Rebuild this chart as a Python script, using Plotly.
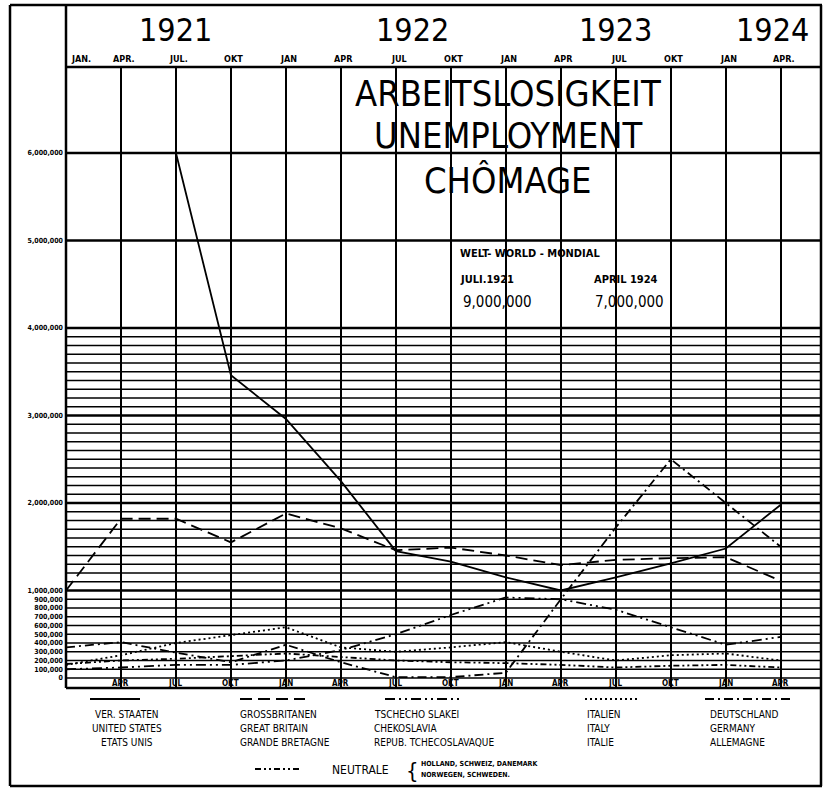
import plotly.graph_objects as go

# ---------------- data (millions of unemployed, quarterly Jan 1921 .. Apr 1924) ----------------
quarter_index = list(range(14))
top_month_labels = ["JAN.", "APR.", "JUL.", "OKT", "JAN", "APR", "JUL", "OKT",
                    "JAN", "APR", "JUL", "OKT", "JAN", "APR."]
bottom_month_labels = ["", "APR", "JUL", "OKT", "JAN", "APR", "JUL", "OKT",
                       "JAN", "APR", "JUL", "OKT", "JAN", "APR"]
year_labels = ["1921", "1922", "1923", "1924"]
year_pos = [2.0, 6.3, 10.0, 12.85]

united_states = [None, None, 6.0, 3.46, 2.96, 2.25, 1.45, 1.33, 1.15, 1.0, 1.15, 1.31, 1.48, 1.98]
great_britain = [1.0, 1.82, 1.82, 1.55, 1.88, 1.71, 1.46, 1.49, 1.40, 1.29, 1.35, 1.37, 1.38, 1.11]
czechoslovakia = [0.10, 0.12, 0.15, 0.15, 0.20, 0.32, 0.50, 0.72, 0.92, 0.90, 0.78, 0.58, 0.38, 0.47]
italy = [0.15, 0.26, 0.40, 0.49, 0.58, 0.35, 0.30, 0.35, 0.41, 0.30, 0.20, 0.26, 0.28, 0.20]
germany = [0.35, 0.41, 0.29, 0.18, 0.38, 0.18, 0.01, 0.01, 0.06, 0.90, 1.72, 2.50, 2.00, 1.50]
neutrals = [0.16, 0.20, 0.22, 0.25, 0.28, 0.24, 0.20, 0.18, 0.17, 0.15, 0.12, 0.14, 0.15, 0.12]

ytick_vals = [0, 0.1, 0.2, 0.3, 0.4, 0.5, 0.6, 0.7, 0.8, 0.9, 1, 2, 3, 4, 5, 6]
ytick_text = ["0", "100,000", "200,000", "300,000", "400,000", "500,000", "600,000",
              "700,000", "800,000", "900,000", "1,000,000", "2,000,000", "3,000,000",
              "4,000,000", "5,000,000", "6,000,000"]
major_lines = [1, 2, 3, 4, 5, 6]
fine_lines = [round(v * 0.1, 1) for v in range(0, 40) if v % 10 != 0]

series = [
    ("VER. STAATEN", united_states, "solid"),
    ("GROSSBRITANEN", great_britain, "12px,6px"),
    ("TSCHECHOSLAKEI", czechoslovakia, "10px,4px,2px,4px,2px,4px"),
    ("ITALIEN", italy, "2px,3px"),
    ("DEUTSCHLAND", germany, "9px,4px,2px,4px"),
    ("NEUTRALE", neutrals, "6px,3px,2px,3px,2px,3px"),
]

legend_blocks = [
    (90, 140, "solid", 127, "center", ["VER. STAATEN", "UNITED STATES", "ETATS UNIS"]),
    (240, 305, "12px,6px", 238, "left", ["GROSSBRITANEN", "GREAT BRITAIN", "GRANDE BRETAGNE"]),
    (385, 460, "10px,4px,2px,4px,2px,4px", 372, "left", ["TSCHECHO SLAKEI", "CHEKOSLAVIA", "REPUB. TCHECOSLAVAQUE"]),
    (585, 640, "2px,3px", 585, "left", ["ITALIEN", "ITALY", "ITALIE"]),
    (705, 790, "9px,4px,2px,4px", 708, "left", ["DEUTSCHLAND", "GERMANY", "ALLEMAGNE"]),
]

# ---------------- geometry ----------------
W, H = 830, 789
L, R, T, B = 66, 822, 67, 688
XMAX = 13.75
YMIN, YMAX = (678 - B) / 87.5, (678 - T) / 87.5


def xp(px):
    return (px - L) / (R - L)


def yp(py):
    return (B - py) / (B - T)


HAND = "Liberation Sans Narrow, DejaVu Sans Condensed, Liberation Sans, sans-serif"

fig = go.Figure()
for name, vals, dash in series:
    fig.add_trace(go.Scatter(x=quarter_index, y=vals, mode="lines", name=name,
                             line=dict(color="black", width=1.8, dash=dash),
                             connectgaps=False, hoverinfo="skip"))

shapes = []
for v in fine_lines:
    shapes.append(dict(type="line", xref="paper", yref="y", x0=0, x1=1, y0=v, y1=v,
                       line=dict(color="black", width=1.3), layer="below"))
for v in major_lines:
    shapes.append(dict(type="line", xref="paper", yref="y", x0=0, x1=1, y0=v, y1=v,
                       line=dict(color="black", width=2.6), layer="below"))
shapes.append(dict(type="line", xref="paper", yref="y", x0=0, x1=1, y0=0, y1=0,
                   line=dict(color="black", width=1.6), layer="below"))

# frame and header box
frame = dict(color="black", width=2.5)
shapes += [
    dict(type="line", xref="paper", yref="paper", x0=xp(10), x1=xp(822), y0=yp(5), y1=yp(5), line=frame),
    dict(type="line", xref="paper", yref="paper", x0=xp(10), x1=xp(10), y0=yp(5), y1=yp(786), line=frame),
    dict(type="line", xref="paper", yref="paper", x0=xp(10), x1=xp(822), y0=yp(786), y1=yp(786), line=frame),
    dict(type="line", xref="paper", yref="paper", x0=xp(821), x1=xp(821), y0=yp(5), y1=yp(786), line=frame),
    dict(type="line", xref="paper", yref="paper", x0=0, x1=0, y0=yp(5), y1=0, line=frame),
    dict(type="line", xref="paper", yref="paper", x0=0, x1=1, y0=1, y1=1, line=frame),
    dict(type="line", xref="paper", yref="paper", x0=0, x1=1, y0=0, y1=0, line=frame),
]

annotations = []
# years
for lab, pos in zip(year_labels, year_pos):
    annotations.append(dict(x=pos, y=yp(30), xref="x", yref="paper", text=lab, showarrow=False,
                            font=dict(size=32, family=HAND, color="black"), xanchor="center", yanchor="middle"))
# top month labels
for i, lab in enumerate(top_month_labels):
    annotations.append(dict(x=i, y=yp(59), xref="x", yref="paper", text="<b>" + lab + "</b>", showarrow=False,
                            font=dict(size=9, family=HAND, color="black"),
                            xanchor="left" if i == 0 else "center", xshift=3, yanchor="middle"))
# bottom month labels
for i, lab in enumerate(bottom_month_labels):
    if lab:
        annotations.append(dict(x=i, y=yp(683), xref="x", yref="paper", text="<b>" + lab + "</b>", showarrow=False,
                                font=dict(size=8, family=HAND, color="black"),
                                xanchor="center", yanchor="middle"))

# title block
for txt, py in [("ARBEITSLOSIGKEIT", 94), ("UNEMPLOYMENT", 135), ("CHÔMAGE", 180)]:
    annotations.append(dict(x=xp(508), y=yp(py), xref="paper", yref="paper", text=txt, showarrow=False,
                            font=dict(size=36, family=HAND, color="black"), xanchor="center", yanchor="middle"))

for txt, px, py, sz in [("<b>WELT- WORLD - MONDIAL</b>", 458, 253, 11),
                        ("<b>JULI.1921</b>", 458, 279, 11),
                        ("<b>APRIL 1924</b>", 592, 279, 11),
                        ("9,000,000", 461, 302, 15),
                        ("7,000,000", 593, 302, 15)]:
    annotations.append(dict(x=xp(px), y=yp(py), xref="paper", yref="paper", text=txt, showarrow=False,
                            font=dict(size=sz, family=HAND, color="black"), xanchor="left", yanchor="middle"))

# legend
for x0, x1, dash, tx, anchor, lines in legend_blocks:
    shapes.append(dict(type="line", xref="paper", yref="paper", x0=xp(x0), x1=xp(x1), y0=yp(699), y1=yp(699),
                       line=dict(color="black", width=2, dash=dash)))
    for k, t in enumerate(lines):
        annotations.append(dict(x=xp(tx), y=yp(714 + 14 * k), xref="paper", yref="paper", text=t, showarrow=False,
                                font=dict(size=10, family=HAND, color="black"), xanchor=anchor, yanchor="middle"))

shapes.append(dict(type="line", xref="paper", yref="paper", x0=xp(255), x1=xp(302), y0=yp(769), y1=yp(769),
                   line=dict(color="black", width=2, dash="6px,3px,2px,3px,2px,3px")))
annotations.append(dict(x=xp(330), y=yp(770), xref="paper", yref="paper", text="NEUTRALE", showarrow=False,
                        font=dict(size=12, family=HAND, color="black"), xanchor="left", yanchor="middle"))
annotations.append(dict(x=xp(404), y=yp(770), xref="paper", yref="paper", text="{", showarrow=False,
                        font=dict(size=22, family=HAND, color="black"), xanchor="left", yanchor="middle"))
annotations.append(dict(x=xp(419), y=yp(764), xref="paper", yref="paper", text="<b>HOLLAND, SCHWEIZ, DANEMARK</b>",
                        showarrow=False, font=dict(size=7, family=HAND, color="black"), xanchor="left", yanchor="middle"))
annotations.append(dict(x=xp(419), y=yp(775), xref="paper", yref="paper", text="<b>NORWEGEN, SCHWEDEN.</b>",
                        showarrow=False, font=dict(size=7, family=HAND, color="black"), xanchor="left", yanchor="middle"))

fig.update_layout(
    width=W, height=H,
    margin=dict(l=L, r=W - R, t=T, b=H - B),
    paper_bgcolor="white", plot_bgcolor="white",
    font=dict(color="black", family=HAND),
    showlegend=False,
    shapes=shapes, annotations=annotations,
    xaxis=dict(range=[0, XMAX], tickvals=quarter_index, showticklabels=False, ticks="",
               showgrid=True, gridcolor="black", gridwidth=2, zeroline=False, showline=False, fixedrange=True),
    yaxis=dict(range=[YMIN, YMAX], tickvals=ytick_vals, ticktext=["<b>" + t + "</b>" for t in ytick_text],
               ticks="", tickfont=dict(size=7, family=HAND, color="black"), showgrid=False, zeroline=False,
               showline=False, ticklabelstandoff=2, fixedrange=True),
)

fig.write_html("out.html", config={"displayModeBar": False},
               post_script="document.body.style.margin='0';document.body.style.padding='0';"
                           "document.documentElement.style.overflow='hidden';")
